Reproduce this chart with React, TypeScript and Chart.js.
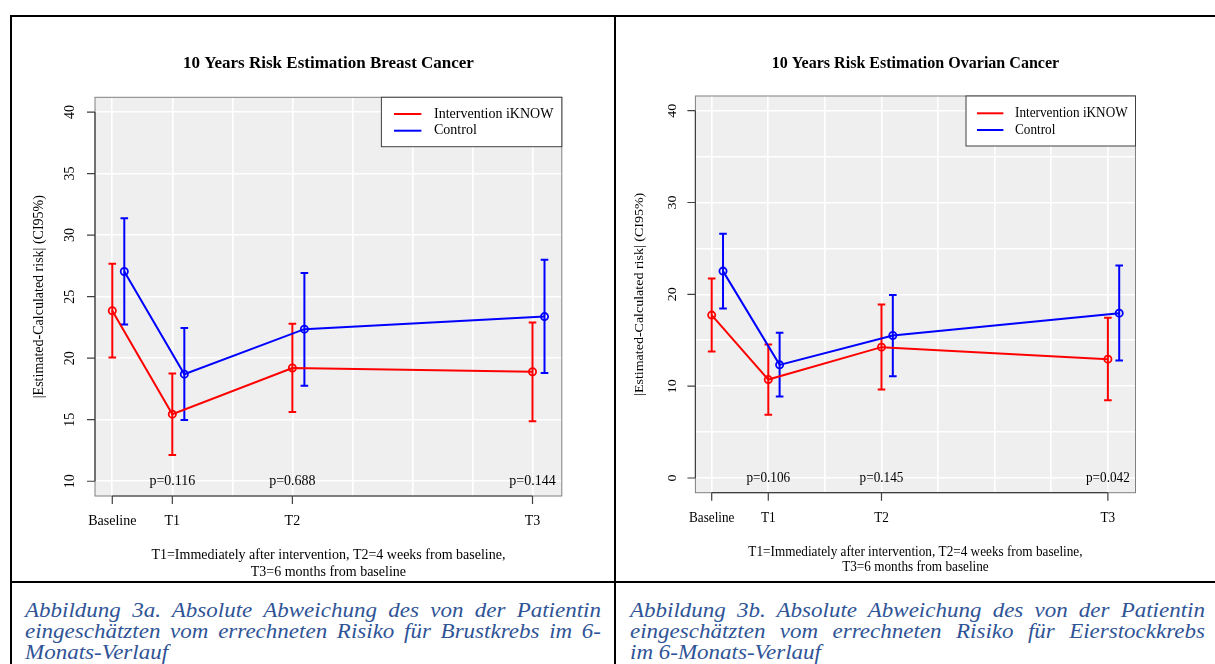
import React, { useEffect, useRef } from "react";
import { Chart, registerables } from "chart.js";

Chart.register(...registerables);

// ---------- data ----------
const TIMEPOINTS = ["Baseline", "T1", "T2", "T3"];
const TIME_POS = [0, 1, 3, 7];
const CONTROL_OFFSET = 0.2;
const X_MIN = -0.288;
const X_MAX = 7.488;

const SERIES_NAMES = ["Intervention iKNOW", "Control"];

// Breast cancer
const BREAST_INT_MEAN = [23.85, 15.45, 19.2, 18.9];
const BREAST_INT_LOW = [20.05, 12.14, 15.63, 14.88];
const BREAST_INT_HIGH = [27.67, 18.75, 22.8, 22.9];
const BREAST_CTL_MEAN = [27.04, 18.7, 22.36, 23.38];
const BREAST_CTL_LOW = [22.73, 14.98, 17.75, 18.8];
const BREAST_CTL_HIGH = [31.38, 22.46, 26.93, 28.0];
const BREAST_P = ["", "p=0.116", "p=0.688", "p=0.144"];
const BREAST_YTICKS = [10, 15, 20, 25, 30, 35, 40];

// Ovarian cancer
const OVAR_INT_MEAN = [17.74, 10.72, 14.25, 12.94];
const OVAR_INT_LOW = [13.77, 6.9, 9.63, 8.47];
const OVAR_INT_HIGH = [21.73, 14.54, 18.9, 17.45];
const OVAR_CTL_MEAN = [22.53, 12.32, 15.52, 17.95];
const OVAR_CTL_LOW = [18.46, 8.87, 11.08, 12.79];
const OVAR_CTL_HIGH = [26.6, 15.81, 19.92, 23.15];
const OVAR_P = ["", "p=0.106", "p=0.145", "p=0.042"];
const OVAR_YTICKS = [0, 10, 20, 30, 40];

const Y_TITLE = "|Estimated-Calculated risk| (CI95%)";
const FOOT_1 = "T1=Immediately after intervention, T2=4 weeks from baseline,";
const FOOT_2 = "T3=6 months from baseline";

const FONT = '"Liberation Serif", "Times New Roman", Times, serif';
const RED = "#ff0000";
const BLUE = "#0000ff";

type Spec = {
  title: string;
  yMin: number;
  yMax: number;
  yTicks: number[];
  intMean: number[];
  intLow: number[];
  intHigh: number[];
  ctlMean: number[];
  ctlLow: number[];
  ctlHigh: number[];
  pLabels: string[];
  pY: number;
  width: number;
  height: number;
  padding: { left: number; right: number; top: number; bottom: number };
  sx: number;
  g: {
    yTickDx: number;
    yTitleDx: number;
    xLabDy: number;
    titleDy: number;
    foot1Dy: number;
    foot2Dy: number;
    legW: number;
    legH: number;
    legL0: number;
    legL1: number;
    legT: number;
    legR1: number;
    legR2: number;
  };
};

function drawText(
  ctx: CanvasRenderingContext2D,
  s: string,
  x: number,
  y: number,
  o: { size: number; align?: CanvasTextAlign; bold?: boolean; sx?: number; rotate?: boolean }
) {
  ctx.save();
  ctx.translate(x, y);
  if (o.rotate) {
    ctx.rotate(-Math.PI / 2);
    ctx.scale(1, o.sx ?? 1);
  } else {
    ctx.scale(o.sx ?? 1, 1);
  }
  ctx.font = `${o.bold ? "bold " : ""}${o.size}px ${FONT}`;
  ctx.textAlign = o.align ?? "center";
  ctx.textBaseline = "middle";
  ctx.fillStyle = "#000";
  ctx.fillText(s, 0, 0);
  ctx.restore();
}

function makePlugin(spec: Spec) {
  return {
    id: "rdecor",
    beforeDraw(chart: any) {
      const { ctx, chartArea: a } = chart;
      ctx.save();
      ctx.fillStyle = "#efefef";
      ctx.fillRect(a.left, a.top, a.right - a.left, a.bottom - a.top);
      ctx.restore();
    },
    beforeDatasetsDraw(chart: any) {
      const { ctx } = chart;
      const xs = chart.scales.x;
      const ys = chart.scales.y;
      const groups = [
        { color: RED, off: 0, low: spec.intLow, high: spec.intHigh },
        { color: BLUE, off: CONTROL_OFFSET, low: spec.ctlLow, high: spec.ctlHigh },
      ];
      ctx.save();
      ctx.lineWidth = 2;
      ctx.lineCap = "butt";
      groups.forEach((gr) => {
        ctx.strokeStyle = gr.color;
        TIME_POS.forEach((t, i) => {
          const px = xs.getPixelForValue(t + gr.off);
          const p1 = ys.getPixelForValue(gr.low[i]);
          const p2 = ys.getPixelForValue(gr.high[i]);
          ctx.beginPath();
          ctx.moveTo(px, p1);
          ctx.lineTo(px, p2);
          ctx.moveTo(px - 3.8, p1);
          ctx.lineTo(px + 3.8, p1);
          ctx.moveTo(px - 3.8, p2);
          ctx.lineTo(px + 3.8, p2);
          ctx.stroke();
        });
      });
      ctx.restore();
    },
    afterDraw(chart: any) {
      const { ctx, chartArea: a } = chart;
      const xs = chart.scales.x;
      const ys = chart.scales.y;
      const g = spec.g;
      const sx = spec.sx;
      ctx.save();
      // frame
      ctx.strokeStyle = "#808080";
      ctx.lineWidth = 1;
      ctx.strokeRect(a.left, a.top, a.right - a.left, a.bottom - a.top);
      // axes
      ctx.strokeStyle = "#404040";
      ctx.lineWidth = 1.2;
      const yt0 = ys.getPixelForValue(spec.yTicks[0]);
      const yt1 = ys.getPixelForValue(spec.yTicks[spec.yTicks.length - 1]);
      ctx.beginPath();
      ctx.moveTo(a.left, yt0);
      ctx.lineTo(a.left, yt1);
      spec.yTicks.forEach((v) => {
        const py = ys.getPixelForValue(v);
        ctx.moveTo(a.left - 8, py);
        ctx.lineTo(a.left, py);
      });
      const xt0 = xs.getPixelForValue(TIME_POS[0]);
      const xt1 = xs.getPixelForValue(TIME_POS[TIME_POS.length - 1]);
      ctx.moveTo(xt0, a.bottom);
      ctx.lineTo(xt1, a.bottom);
      TIME_POS.forEach((t) => {
        const px = xs.getPixelForValue(t);
        ctx.moveTo(px, a.bottom);
        ctx.lineTo(px, a.bottom + 8);
      });
      ctx.stroke();
      ctx.restore();

      // y tick labels (rotated)
      spec.yTicks.forEach((v) => {
        drawText(ctx, String(v), a.left - g.yTickDx, ys.getPixelForValue(v), {
          size: 14,
          rotate: true,
          sx,
        });
      });
      // x tick labels
      TIME_POS.forEach((t, i) => {
        drawText(ctx, TIMEPOINTS[i], xs.getPixelForValue(t), a.bottom + g.xLabDy, { size: 14, sx });
      });
      // p-values
      TIME_POS.forEach((t, i) => {
        if (spec.pLabels[i]) {
          drawText(ctx, spec.pLabels[i], xs.getPixelForValue(t), ys.getPixelForValue(spec.pY), {
            size: 14,
            sx,
          });
        }
      });
      const cx = (a.left + a.right) / 2;
      const cy = (a.top + a.bottom) / 2;
      drawText(ctx, spec.title, cx, a.top - g.titleDy, { size: 17, bold: true, sx });
      drawText(ctx, Y_TITLE, a.left - g.yTitleDx, cy, { size: 14, rotate: true, sx });
      drawText(ctx, FOOT_1, cx, a.bottom + g.foot1Dy, { size: 14, sx });
      drawText(ctx, FOOT_2, cx, a.bottom + g.foot2Dy, { size: 14, sx });

      // legend
      const lx = a.right - g.legW;
      const ly = a.top;
      ctx.save();
      ctx.fillStyle = "#ffffff";
      ctx.fillRect(lx, ly, g.legW, g.legH);
      ctx.strokeStyle = "#404040";
      ctx.lineWidth = 1;
      ctx.strokeRect(lx, ly, g.legW, g.legH);
      ctx.lineWidth = 2;
      [RED, BLUE].forEach((c, i) => {
        const ry = ly + (i === 0 ? g.legR1 : g.legR2);
        ctx.strokeStyle = c;
        ctx.beginPath();
        ctx.moveTo(lx + g.legL0, ry);
        ctx.lineTo(lx + g.legL1, ry);
        ctx.stroke();
      });
      ctx.restore();
      SERIES_NAMES.forEach((n, i) => {
        const ry = ly + (i === 0 ? g.legR1 : g.legR2);
        drawText(ctx, n, lx + g.legT, ry, { size: 14, align: "left", sx });
      });
    },
  };
}

function RChart({ spec }: { spec: Spec }) {
  const ref = useRef<HTMLCanvasElement | null>(null);
  useEffect(() => {
    if (!ref.current) return;
    const mk = (mean: number[], off: number) => TIME_POS.map((t, i) => ({ x: t + off, y: mean[i] }));
    const ds = (label: string, data: any[], color: string) => ({
      label,
      data,
      showLine: true,
      borderColor: color,
      backgroundColor: color,
      borderWidth: 2,
      pointRadius: 3.6,
      pointBorderWidth: 1.8,
      pointBorderColor: color,
      pointBackgroundColor: "rgba(0,0,0,0)",
      tension: 0,
      clip: false,
    });
    const chart = new Chart(ref.current, {
      type: "scatter",
      data: {
        datasets: [
          ds(SERIES_NAMES[0], mk(spec.intMean, 0), RED),
          ds(SERIES_NAMES[1], mk(spec.ctlMean, CONTROL_OFFSET), BLUE),
        ],
      },
      options: {
        responsive: false,
        animation: false,
        devicePixelRatio: 1,
        events: [],
        layout: { padding: spec.padding },
        plugins: { legend: { display: false }, title: { display: false }, tooltip: { enabled: false } },
        scales: {
          x: {
            type: "linear",
            min: X_MIN,
            max: X_MAX,
            ticks: { display: false, stepSize: 1, includeBounds: false },
            grid: { color: "#ffffff", lineWidth: 1.6, drawTicks: false },
            border: { display: false },
          },
          y: {
            type: "linear",
            min: spec.yMin,
            max: spec.yMax,
            ticks: { display: false, stepSize: 5, includeBounds: false },
            grid: { color: "#ffffff", lineWidth: 1.6, drawTicks: false },
            border: { display: false },
          },
        },
      } as any,
      plugins: [makePlugin(spec) as any],
    });
    return () => chart.destroy();
  }, [spec]);
  return <canvas ref={ref} width={spec.width} height={spec.height} style={{ display: "block" }} />;
}

const BREAST_SPEC: Spec = {
  title: "10 Years Risk Estimation Breast Cancer",
  yMin: 8.8,
  yMax: 41.2,
  yTicks: BREAST_YTICKS,
  intMean: BREAST_INT_MEAN,
  intLow: BREAST_INT_LOW,
  intHigh: BREAST_INT_HIGH,
  ctlMean: BREAST_CTL_MEAN,
  ctlLow: BREAST_CTL_LOW,
  ctlHigh: BREAST_CTL_HIGH,
  pLabels: BREAST_P,
  pY: 10,
  width: 602,
  height: 564,
  padding: { left: 83, right: 52.2, top: 80.3, bottom: 85 },
  sx: 1,
  g: {
    yTickDx: 24.3,
    yTitleDx: 56,
    xLabDy: 25.7,
    titleDy: 33.5,
    foot1Dy: 59.8,
    foot2Dy: 76,
    legW: 180.4,
    legH: 49.4,
    legL0: 12.6,
    legL1: 40,
    legT: 52.6,
    legR1: 16.7,
    legR2: 33.4,
  },
};

const OVAR_SPEC: Spec = {
  title: "10 Years Risk Estimation Ovarian Cancer",
  yMin: -1.6,
  yMax: 41.6,
  yTicks: OVAR_YTICKS,
  intMean: OVAR_INT_MEAN,
  intLow: OVAR_INT_LOW,
  intHigh: OVAR_INT_HIGH,
  ctlMean: OVAR_CTL_MEAN,
  ctlLow: OVAR_CTL_LOW,
  ctlHigh: OVAR_CTL_HIGH,
  pLabels: OVAR_P,
  pY: 0,
  width: 599,
  height: 564,
  padding: { left: 79.4, right: 79.5, top: 79, bottom: 88.3 },
  sx: 0.944,
  g: {
    yTickDx: 23,
    yTitleDx: 55.4,
    xLabDy: 25.6,
    titleDy: 32.5,
    foot1Dy: 59.5,
    foot2Dy: 75,
    legW: 169.5,
    legH: 50,
    legL0: 11,
    legL1: 37.4,
    legT: 49,
    legR1: 17.3,
    legR2: 34,
  },
};

const CAPTION_STYLE: React.CSSProperties = {
  position: "absolute",
  top: 600,
  width: 576,
  fontFamily: FONT,
  fontStyle: "italic",
  fontSize: 23,
  lineHeight: "23.3px",
  color: "#2f5496",
  transform: "scaleY(0.9)",
  transformOrigin: "top left",
};
const JL: React.CSSProperties = { textAlign: "justify", textAlignLast: "justify", whiteSpace: "nowrap" };

export default function App() {
  const line = (s: React.CSSProperties) => (
    <div style={{ position: "absolute", background: "#000", ...s }} />
  );
  return (
    <div
      style={{
        position: "fixed",
        left: 0,
        top: 0,
        width: 1215,
        height: 664,
        overflow: "hidden",
        background: "#fff",
      }}
    >
      <div style={{ position: "absolute", left: 12, top: 17 }}>
        <RChart spec={BREAST_SPEC} />
      </div>
      <div style={{ position: "absolute", left: 616, top: 17 }}>
        <RChart spec={OVAR_SPEC} />
      </div>
      {line({ left: 10, top: 15, width: 1210, height: 2 })}
      {line({ left: 10, top: 15, width: 2, height: 660 })}
      {line({ left: 614, top: 15, width: 2, height: 660 })}
      {line({ left: 10, top: 581, width: 1210, height: 2 })}
      <div style={{ ...CAPTION_STYLE, left: 25 }}>
        <div style={JL}>Abbildung 3a. Absolute Abweichung des von der Patientin</div>
        <div style={JL}>eingeschätzten vom errechneten Risiko für Brustkrebs im 6-</div>
        <div>Monats-Verlauf</div>
      </div>
      <div style={{ ...CAPTION_STYLE, left: 630, width: 575 }}>
        <div style={JL}>Abbildung 3b. Absolute Abweichung des von der Patientin</div>
        <div style={JL}>eingeschätzten vom errechneten Risiko für Eierstockkrebs</div>
        <div>im 6-Monats-Verlauf</div>
      </div>
    </div>
  );
}
